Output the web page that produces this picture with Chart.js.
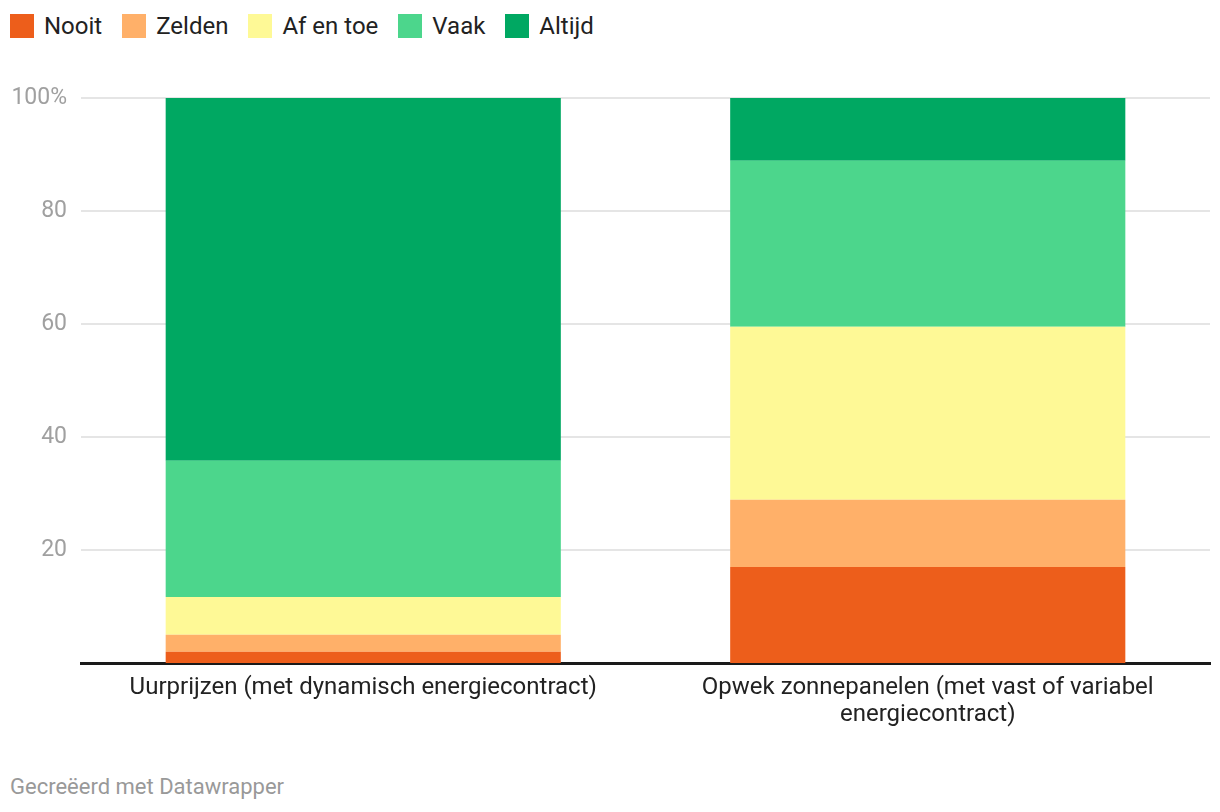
<!DOCTYPE html>
<html>
<head>
<meta charset="utf-8">
<script src="https://cdn.jsdelivr.net/npm/chart.js@4"></script>
<style>
  body { margin: 0; background: #fff; font-family: Roboto, sans-serif; }
  #legend { position: absolute; left: 10px; top: 12px; display: flex; font-size: 24px; color: #222; }
  #legend .item { display: flex; align-items: center; margin-right: 20px; }
  #legend .sw { width: 24px; height: 24px; margin-right: 10px; }
  #wrap { position: absolute; left: 0; top: 70px; width: 1220px; height: 670px; }
  #footer { position: absolute; left: 10px; top: 774px; font-size: 22px; color: #999; }
</style>
</head>
<body>
<div id="legend"></div>
<div id="wrap"><canvas id="chart"></canvas></div>
<div id="footer">Gecreëerd met Datawrapper</div>
<script>
const categories = [
  'Uurprijzen (met dynamisch energiecontract)',
  ['Opwek zonnepanelen (met vast of variabel', 'energiecontract)']
];
const nooit = [2.0, 17.0];
const zelden = [3.0, 11.9];
const afEnToe = [6.7, 30.6];
const vaak = [24.1, 29.4];
const altijd = [64.2, 11.1];
const yTicks = [20, 40, 60, 80, 100];

const series = [
  { label: 'Nooit', data: nooit, color: '#ed5e1b' },
  { label: 'Zelden', data: zelden, color: '#ffb069' },
  { label: 'Af en toe', data: afEnToe, color: '#fef996' },
  { label: 'Vaak', data: vaak, color: '#4cd68c' },
  { label: 'Altijd', data: altijd, color: '#00a862' }
];

// html legend
const legend = document.getElementById('legend');
series.forEach(s => {
  const el = document.createElement('div');
  el.className = 'item';
  el.innerHTML = '<span class="sw" style="background:' + s.color + '"></span>' + s.label;
  legend.appendChild(el);
});

new Chart(document.getElementById('chart'), {
  type: 'bar',
  data: {
    labels: categories,
    datasets: series.map(s => ({
      label: s.label,
      data: s.data,
      backgroundColor: s.color,
      borderWidth: 0,
      categoryPercentage: 0.7,
      barPercentage: 1
    }))
  },
  options: {
    responsive: true,
    maintainAspectRatio: false,
    animation: false,
    layout: { padding: { top: 28, right: 10, left: 0, bottom: 0 } },
    plugins: { legend: { display: false }, tooltip: { enabled: false } },
    scales: {
      x: {
        stacked: true,
        grid: { display: false, drawTicks: false },
        border: { display: true, color: '#1a1a1a', width: 3 },
        ticks: { color: '#222', font: { family: 'Roboto', size: 24, lineHeight: 1.1 }, padding: 12, maxRotation: 0 },
        afterFit: s => { s.height = 77; }
      },
      y: {
        stacked: true,
        min: 0,
        max: 100,
        afterBuildTicks: s => { s.ticks = yTicks.map(v => ({ value: v })); },
        grid: { color: '#e5e5e5', lineWidth: 2, drawTicks: false },
        border: { display: false },
        ticks: {
          color: '#a0a0a0',
          font: { family: 'Roboto', size: 23 },
          padding: 14,
          callback: v => v === 100 ? '100%' : v
        },
        afterFit: s => { s.width = 81; }
      }
    }
  }
});
</script>
</body>
</html>
